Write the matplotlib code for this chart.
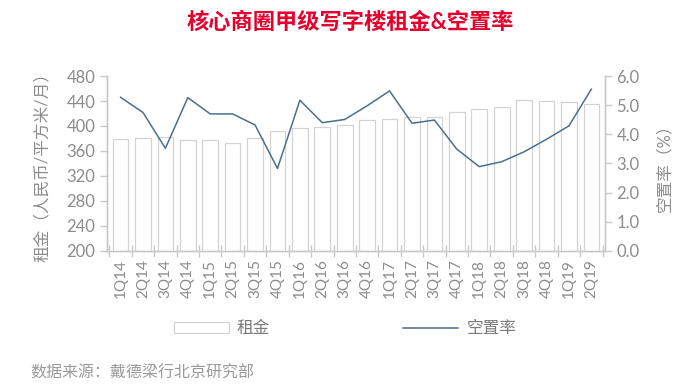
import matplotlib
matplotlib.use('Agg')
import matplotlib.pyplot as plt
import numpy as np

plt.rcParams['font.family'] = ['Lato', 'Noto Sans CJK SC', 'DejaVu Sans']

quarters = ['1Q14', '2Q14', '3Q14', '4Q14', '1Q15', '2Q15', '3Q15', '4Q15',
            '1Q16', '2Q16', '3Q16', '4Q16', '1Q17', '2Q17', '3Q17', '4Q17',
            '1Q18', '2Q18', '3Q18', '4Q18', '1Q19', '2Q19']
rent = [379, 381, 382, 378, 377, 373, 380, 392, 396, 398, 402, 409,
        411, 415, 414, 422, 427, 430, 441, 440, 438, 436]
vacancy = [5.27, 4.75, 3.52, 5.26, 4.70, 4.70, 4.32, 2.83, 5.17, 4.40, 4.51, 4.98,
           5.49, 4.38, 4.49, 3.49, 2.89, 3.06, 3.40, 3.83, 4.29, 5.55]

grey_txt = '#8c8c8c'
grey_line = '#c9c9c9'
line_color = '#4b6f8c'

fig = plt.figure(figsize=(7, 3.92), dpi=100)
ax = fig.add_axes([0.153, 0.36, 0.711, 0.446])
ax2 = ax.twinx()

x = np.arange(len(quarters))
ax.bar(x, rent, width=0.7, bottom=0, facecolor='white', edgecolor='#d3d3d3',
       linewidth=0.9, label='租金', zorder=2)
ax.set_ylim(200, 480)
ax.set_yticks(np.arange(200, 481, 40))
ax.set_xlim(-0.6, len(quarters) - 0.4)

ax2.plot(x, vacancy, color=line_color, linewidth=1.1, label='空置率', zorder=3)
ax2.set_ylim(0, 6)
ax2.set_yticks(np.arange(0, 6.1, 1.0))
ax2.set_yticklabels([f'{v:.1f}' for v in np.arange(0, 6.1, 1.0)])

for a in (ax, ax2):
    a.spines['top'].set_visible(False)
    for s in ('left', 'right', 'bottom'):
        a.spines[s].set_color(grey_line)
        a.spines[s].set_linewidth(1.0)
    a.tick_params(axis='y', colors=grey_line, labelcolor=grey_txt, labelsize=12,
                  length=5, width=1.0)

ax.set_xticks(x)
ax.set_xticklabels(quarters, rotation=90)
ax.tick_params(axis='x', length=0, labelcolor=grey_txt, labelsize=11, pad=6)
ax.set_xticks(np.arange(-0.5, len(quarters), 1.0), minor=True)
ax.tick_params(axis='x', which='minor', direction='inout', length=8,
               color=grey_line, width=1.0)

ax.set_ylabel('租金（人民币/平方米/月）', color=grey_txt, fontsize=12, labelpad=12)
ax2.set_ylabel('空置率（%）', color=grey_txt, fontsize=12, labelpad=12)

h1, l1 = ax.get_legend_handles_labels()
h2, l2 = ax2.get_legend_handles_labels()
fig.legend(h1 + h2, l1 + l2, loc='center', bbox_to_anchor=(0.493, 0.163), ncol=2,
           frameon=False, fontsize=12, handlelength=3.3, handleheight=0.6,
           handletextpad=0.5, columnspacing=8.0, labelcolor='#7a7a7a')

fig.text(0.5, 0.943, '核心商圈甲级写字楼租金&空置率', ha='center', va='center',
         fontsize=16, fontweight='bold', color='#e5002d')
fig.text(0.043, 0.05, '数据来源：戴德梁行北京研究部', ha='left', va='center',
         fontsize=11.5, color='#9a9a9a')

fig.savefig('out.png', dpi=100, facecolor='white')
